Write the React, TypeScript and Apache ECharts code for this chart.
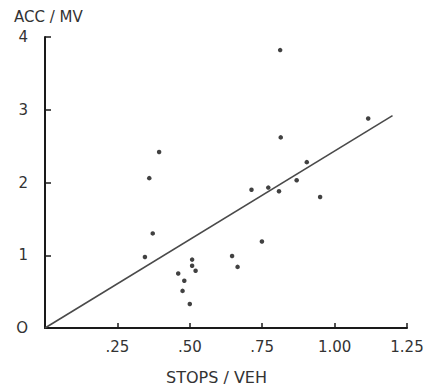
import React, { useEffect, useRef } from "react";
import * as echarts from "echarts";

const stopsPerVeh = [0.345, 0.372, 0.46, 0.481, 0.475, 0.5, 0.508, 0.508, 0.52, 0.394, 0.36, 0.812, 0.814, 1.116, 0.904, 0.869, 0.713, 0.771, 0.808, 0.95, 0.749, 0.646, 0.665];
const accPerMv = [0.975, 1.3, 0.75, 0.65, 0.51, 0.33, 0.94, 0.855, 0.786, 2.42, 2.06, 3.82, 2.62, 2.88, 2.28, 2.03, 1.9, 1.93, 1.88, 1.8, 1.19, 0.99, 0.84];
const fitX = [0, 1.2];
const fitY = [0, 2.92];
const xTickLabels: Record<string, string> = { "0.25": ".25", "0.5": ".50", "0.75": ".75", "1": "1.00", "1.25": "1.25" };
const yTickLabels: Record<string, string> = { "1": "1", "2": "2", "3": "3", "4": "4" };

export default function App() {
  const ref = useRef<HTMLDivElement>(null);
  useEffect(() => {
    const chart = echarts.init(ref.current!, null, { renderer: "svg" });
    const font = "'DejaVu Sans', Arial, sans-serif";
    chart.setOption({
      animation: false,
      backgroundColor: "#ffffff",
      grid: { left: 45, right: 26, top: 37, bottom: 58 },
      xAxis: {
        type: "value",
        min: 0,
        max: 1.25,
        interval: 0.25,
        axisLine: { show: true, onZero: false, lineStyle: { color: "#1a1a1a", width: 2 } },
        axisTick: { show: true, inside: true, length: 5, lineStyle: { color: "#1a1a1a", width: 1.5 } },
        splitLine: { show: false },
        axisLabel: {
          margin: 11,
          color: "#333333",
          fontSize: 15,
          fontFamily: font,
          formatter: (v: number) => xTickLabels[String(v)] ?? "",
        },
      },
      yAxis: {
        type: "value",
        min: 0,
        max: 4,
        interval: 1,
        axisLine: { show: true, onZero: false, lineStyle: { color: "#1a1a1a", width: 2 } },
        axisTick: { show: true, inside: true, length: 6, lineStyle: { color: "#1a1a1a", width: 1.5 } },
        splitLine: { show: false },
        axisLabel: {
          margin: 17,
          color: "#333333",
          fontSize: 15,
          fontFamily: font,
          padding: [8, 0, 0, 0],
          formatter: (v: number) => (v === 0 ? "O" : yTickLabels[String(v)] ?? ""),
        },
      },
      series: [
        {
          type: "line",
          data: fitX.map((x, i) => [x, fitY[i]]),
          showSymbol: false,
          symbol: "none",
          lineStyle: { color: "#4a4a4a", width: 1.6 },
          z: 2,
        },
        {
          type: "scatter",
          data: stopsPerVeh.map((x, i) => [x, accPerMv[i]]),
          symbol: "circle",
          symbolSize: 4.5,
          itemStyle: { color: "#111111" },
          z: 3,
        },
      ],
      graphic: [
        {
          type: "text",
          left: 14,
          top: 9,
          style: { text: "ACC / MV", fill: "#333333", font: `15px ${font}` },
        },
        {
          type: "text",
          left: 166,
          top: 369,
          style: { text: "STOPS / VEH", fill: "#333333", font: `16px ${font}` },
        },
      ],
    });
    return () => chart.dispose();
  }, []);
  return <div ref={ref} style={{ position: "absolute", left: 0, top: 0, width: 433, height: 386 }} />;
}
